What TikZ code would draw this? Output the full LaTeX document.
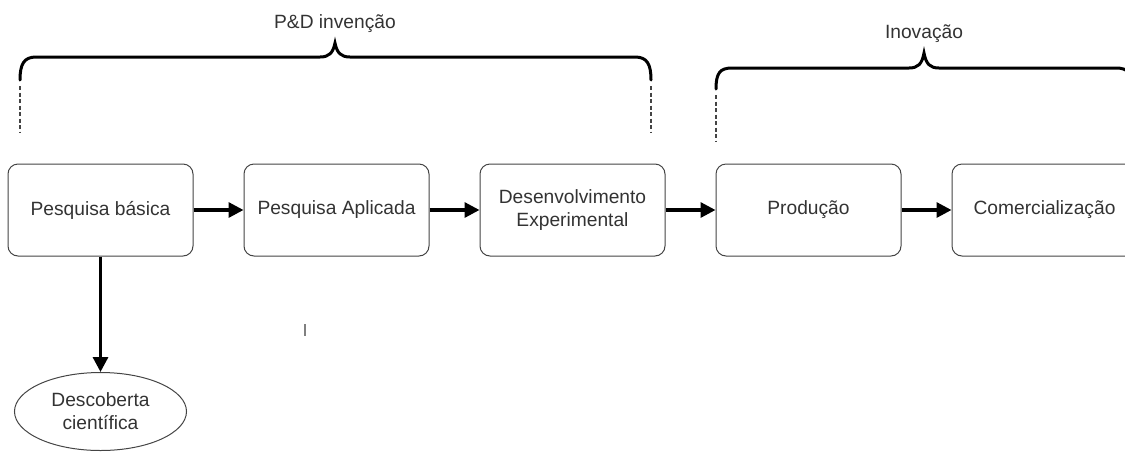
\documentclass[tikz,border=0pt]{standalone}
\usepackage{fontspec}
\setmainfont{Liberation Sans}
\usetikzlibrary{arrows.meta,shapes.geometric}
\definecolor{ink}{HTML}{333333}
\definecolor{edge}{HTML}{444444}
\begin{document}
\begin{tikzpicture}[x=1pt,y=-1pt,
  txt/.style={text=ink,font=\fontsize{19.2}{23}\selectfont,align=center,inner sep=0pt},
  stage/.style={txt,draw=edge,line width=1pt,rounded corners=10pt,
    minimum width=185pt,minimum height=92pt},
  result/.style={txt,ellipse,draw=edge,line width=1pt,
    minimum width=172pt,minimum height=78pt},
  flow/.style={line width=3.2pt,-{Triangle[length=15pt,width=15pt]}},
  bracket/.style={line width=3pt,line cap=round},
  guide/.style={draw=edge,line width=1.1pt,dash pattern=on 4pt off 2.5pt}]
\useasboundingbox (0,0) rectangle (1125,451);
\clip (0,0) rectangle (1125,451);

% process stages
\node[stage] (basica) at (100.5,210) {Pesquisa básica};
\node[stage] (aplicada) at (336.5,210) {Pesquisa Aplicada};
\node[stage] (desenv) at (572.5,210) {Desenvolvimento\\Experimental};
\node[stage] (producao) at (808.5,210) {Produção};
\node[stage] (comerc) at (1044.5,210) {Comercialização};
\node[result] (descoberta) at (100.5,411.5) {Descoberta\\científica};

% flow between stages
\draw[flow] (basica) -- (aplicada);
\draw[flow] (aplicada) -- (desenv);
\draw[flow] (desenv) -- (producao);
\draw[flow] (producao) -- (comerc);
\draw[flow] (basica.south) -- (descoberta.north);

% R&D bracket
\draw[bracket] (20,80) .. controls (20,64) and (24,57) .. (36,57)
  -- (320,57) .. controls (329,57) and (333,53) .. (335,43)
  .. controls (337,53) and (341,57) .. (350,57)
  -- (635,57) .. controls (647,57) and (651,64) .. (651,80);
\node[txt] (pdlabel) at (335,24) {P\&D invenção};
\draw[guide] (20,86) -- (20,132);
\draw[guide] (651,86) -- (651,132);

% innovation bracket
\draw[bracket] (716,89) .. controls (716,73) and (720,68) .. (732,68)
  -- (909,68) .. controls (918,68) and (922,64) .. (924,53)
  .. controls (926,64) and (930,68) .. (939,68)
  -- (1116,68) .. controls (1128,68) and (1132,73) .. (1132,89);
\node[txt] (inolabel) at (924,34) {Inovação};
\draw[guide] (716,95) -- (716,141);

% stray tick
\draw[draw=gray,line width=1.6pt] (305,324) -- (305,336);
\end{tikzpicture}
\end{document}
